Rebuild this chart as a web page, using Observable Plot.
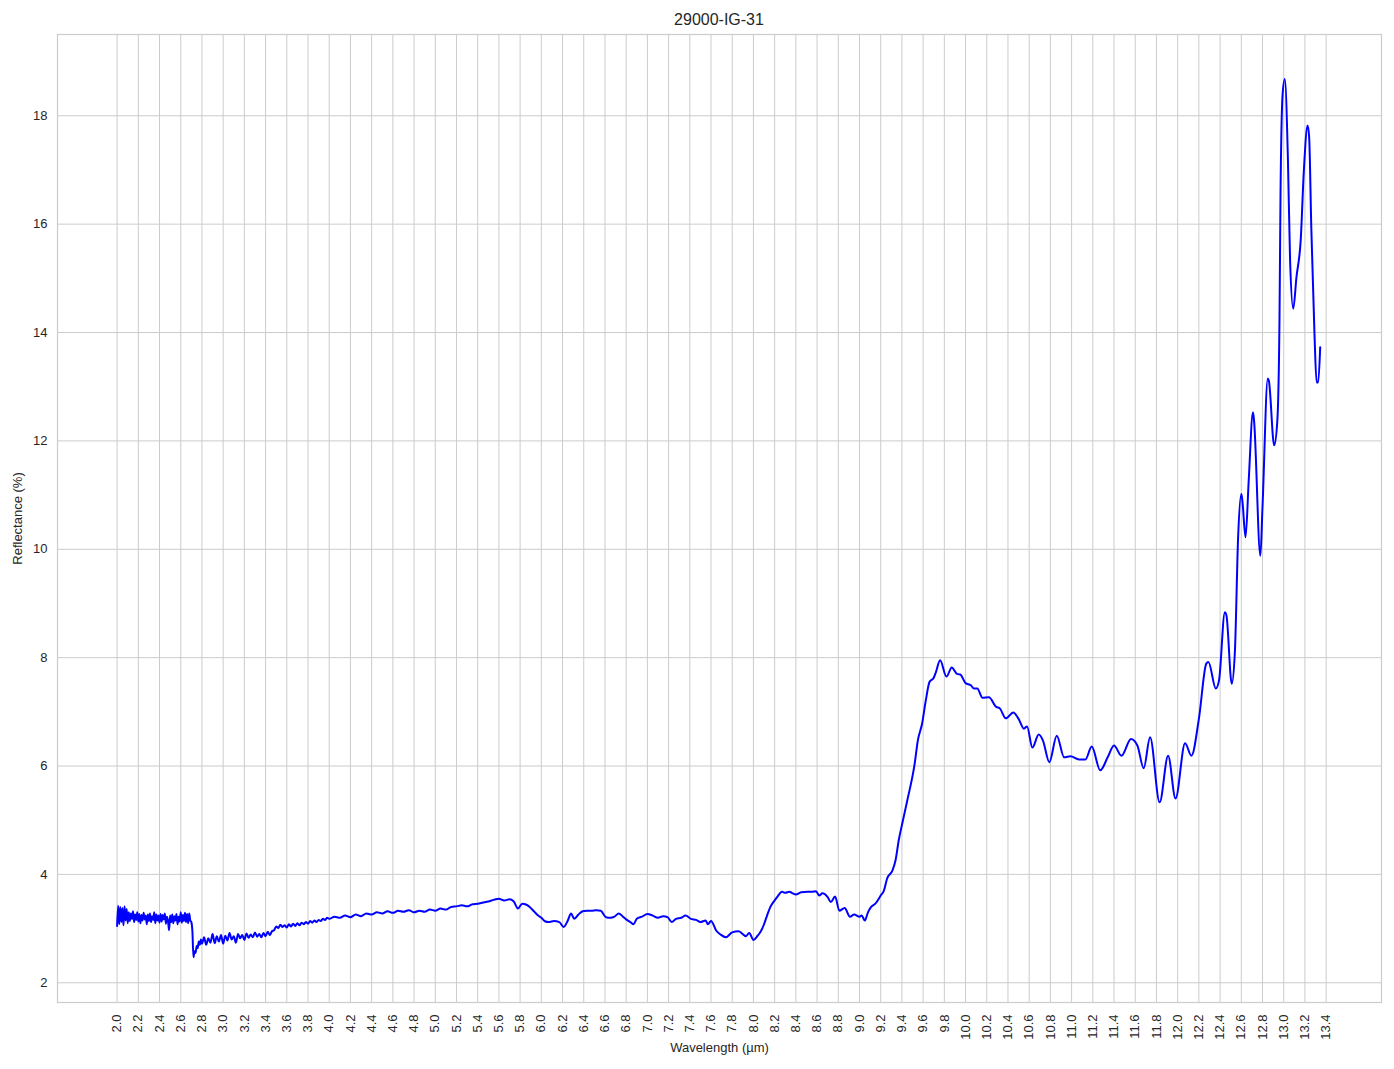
<!DOCTYPE html>
<html>
<head>
<meta charset="utf-8">
<script src="https://cdn.jsdelivr.net/npm/d3@7"></script>
<script src="https://cdn.jsdelivr.net/npm/@observablehq/plot@0.6"></script>
<style>
  html, body { margin: 0; padding: 0; background: #ffffff; }
  #title { height: 30px; box-sizing: border-box; padding-top: 12px; margin-left: 57px; width: 1324px;
           text-align: center; font: 16px "Liberation Sans", Arial, sans-serif; line-height: 16px; color: #262626; }
</style>
</head>
<body>
<div id="title">29000-IG-31</div>
<div id="chart"></div>
<script>
const titleText = "29000-IG-31";
const xLabel = "Wavelength (µm)";
const yLabel = "Reflectance (%)";

const xTicks = [2.0,2.2,2.4,2.6,2.8,3.0,3.2,3.4,3.6,3.8,4.0,4.2,4.4,4.6,4.8,5.0,5.2,5.4,5.6,5.8,
  6.0,6.2,6.4,6.6,6.8,7.0,7.2,7.4,7.6,7.8,8.0,8.2,8.4,8.6,8.8,9.0,9.2,9.4,9.6,9.8,
  10.0,10.2,10.4,10.6,10.8,11.0,11.2,11.4,11.6,11.8,12.0,12.2,12.4,12.6,12.8,13.0,13.2,13.4];
const yTicks = [2,4,6,8,10,12,14,16,18];

const wavelength = [
  2.00,2.01,2.02,2.03,2.04,2.05,2.06,2.07,2.08,2.09,
  2.10,2.11,2.12,2.13,2.14,2.15,2.16,2.17,2.18,2.19,
  2.20,2.21,2.22,2.23,2.24,2.25,2.26,2.27,2.28,2.29,
  2.30,2.31,2.32,2.33,2.34,2.35,2.36,2.37,2.38,2.39,
  2.40,2.41,2.42,2.43,2.44,2.45,2.46,2.47,2.48,2.49,
  2.50,2.51,2.52,2.53,2.54,2.55,2.56,2.57,2.58,2.59,
  2.60,2.61,2.62,2.63,2.64,2.65,2.66,2.67,2.68,2.69,
  2.70,
  2.71,2.72,2.73,2.74,2.75,2.76,2.77,2.78,2.79,2.80,
  2.82,2.84,2.86,2.88,2.90,2.92,2.94,2.96,2.98,3.00,
  3.02,3.04,3.06,3.08,3.10,3.12,3.14,3.16,3.18,3.20,
  3.22,3.24,3.26,3.28,3.30,3.32,3.34,3.36,3.38,3.40,
  3.42,3.44,3.46,3.48,3.50,3.52,3.54,3.56,3.58,3.60,
  3.62,3.64,3.66,3.68,3.70,3.72,3.74,3.76,3.78,3.80,
  3.82,3.84,3.86,3.88,3.90,3.92,3.94,3.96,3.98,4.00,
  4.05,4.10,4.15,4.20,4.25,4.30,4.35,4.40,4.45,4.50,
  4.55,4.60,4.65,4.70,4.75,4.80,4.85,4.90,4.95,5.00,
  5.05,5.10,5.15,5.20,5.25,5.30,5.35,5.40,5.45,5.50,
  5.55,5.60,5.65,5.70,
  5.74,5.78,5.82,5.86,5.89,5.93,5.97,6.00,6.03,6.07,
  6.12,6.17,6.21,6.25,6.28,6.31,6.35,6.39,6.43,6.47,
  6.52,6.56,6.61,6.65,6.69,6.73,6.77,6.80,6.84,6.87,
  6.90,6.95,7.00,7.05,7.10,7.15,7.19,7.23,7.27,7.32,
  7.36,7.41,7.46,7.50,7.55,7.57,7.60,7.65,7.69,7.74,
  7.80,7.86,7.93,7.96,8.00,8.04,8.07,8.10,8.13,8.16,
  8.20,8.23,8.27,8.30,8.34,8.37,8.40,8.45,8.51,8.55,
  8.59,8.62,8.65,8.70,8.73,8.77,8.81,8.86,8.91,8.95,
  9.00,9.02,9.05,9.08,9.11,9.15,9.20,9.23,9.26,9.31,
  9.34,9.37,9.41,9.45,9.52,9.55,9.59,9.625,9.66,9.70,
  9.72,9.76,9.82,9.87,9.92,9.95,10.00,10.05,10.08,10.11,
  10.16,10.22,10.29,10.32,10.38,10.45,10.50,10.55,10.58,10.63,
  10.69,10.73,10.79,10.86,10.93,10.99,11.07,11.13,11.19,11.27,
  11.34,11.40,11.47,11.56,11.62,11.68,11.74,11.83,11.91,11.98,
  12.07,12.13,12.20,12.27,12.29,12.36,12.39,12.445,12.46,12.51,
  12.54,12.57,12.60,12.61,12.64,12.67,12.71,12.72,12.78,12.80,
  12.85,12.86,12.91,12.94,12.96,12.97,12.99,13.01,13.04,13.06,
  13.09,13.12,13.16,13.19,13.225,13.24,13.26,13.29,13.31,13.325,13.344
];

const reflectance = [
  3.05,3.42,3.08,3.40,3.12,3.38,3.06,3.41,3.15,3.36,
  3.10,3.30,3.14,3.28,3.18,3.32,3.12,3.26,3.16,3.30,
  3.13,3.27,3.10,3.25,3.15,3.29,3.17,3.24,3.08,3.26,
  3.14,3.28,3.12,3.23,3.16,3.30,3.10,3.26,3.15,3.24,
  3.11,3.27,3.13,3.25,3.17,3.28,3.09,3.22,3.14,2.97,
  3.24,3.12,3.26,3.10,3.23,3.15,3.27,3.08,3.22,3.13,
  3.30,3.11,3.25,3.14,3.29,3.12,3.27,3.10,3.28,3.15,
  3.12,
  2.95,2.47,2.58,2.55,2.68,2.64,2.76,2.70,2.80,2.72,
  2.84,2.70,2.82,2.74,2.90,2.73,2.86,2.76,2.88,2.72,
  2.87,2.78,2.92,2.80,2.86,2.74,2.90,2.82,2.88,2.79,
  2.91,2.83,2.89,2.84,2.93,2.85,2.90,2.84,2.92,2.86,
  2.94,2.88,2.95,2.97,3.04,3.01,3.07,3.03,3.06,3.02,
  3.08,3.04,3.09,3.05,3.10,3.06,3.11,3.08,3.12,3.09,
  3.14,3.11,3.15,3.12,3.16,3.14,3.18,3.16,3.20,3.18,
  3.22,3.20,3.24,3.21,3.26,3.23,3.28,3.26,3.30,3.28,
  3.32,3.29,3.33,3.31,3.34,3.30,3.33,3.31,3.35,3.33,
  3.37,3.35,3.40,3.41,3.43,3.41,3.45,3.46,3.48,3.50,
  3.53,3.55,3.52,3.54,
  3.50,3.37,3.46,3.44,3.40,3.32,3.24,3.20,3.14,3.12,
  3.14,3.12,3.03,3.15,3.28,3.18,3.26,3.32,3.33,3.33,
  3.34,3.33,3.21,3.20,3.22,3.28,3.22,3.17,3.12,3.08,
  3.18,3.22,3.27,3.24,3.20,3.23,3.21,3.12,3.18,3.20,
  3.24,3.18,3.16,3.12,3.15,3.08,3.14,2.96,2.89,2.84,
  2.93,2.95,2.86,2.92,2.79,2.87,2.95,3.08,3.25,3.40,
  3.52,3.60,3.68,3.66,3.68,3.65,3.63,3.67,3.68,3.68,
  3.69,3.61,3.65,3.58,3.49,3.59,3.33,3.38,3.22,3.26,
  3.22,3.24,3.15,3.30,3.40,3.46,3.61,3.70,3.92,4.07,
  4.26,4.63,5.00,5.36,6.04,6.47,6.78,7.21,7.55,7.63,
  7.73,7.95,7.65,7.82,7.70,7.69,7.53,7.49,7.43,7.43,
  7.26,7.27,7.09,7.07,6.88,6.99,6.87,6.69,6.73,6.34,
  6.58,6.47,6.07,6.56,6.16,6.18,6.12,6.12,6.36,5.92,
  6.16,6.38,6.19,6.50,6.38,5.96,6.53,5.33,6.19,5.40,
  6.42,6.19,6.87,7.89,7.92,7.43,7.58,8.84,8.78,7.52,
  8.13,10.22,11.02,10.90,10.22,11.27,12.53,12.38,9.88,10.78,
  13.15,13.11,11.92,12.38,14.22,16.56,18.41,18.68,17.17,15.33,
  14.44,15.02,15.70,16.99,17.82,17.60,15.94,13.98,13.08,13.08,13.73
];

const data = wavelength.map((w, i) => ({w, r: reflectance[i]}));
const grid = "#cccccc";
const ink = "#262626";

const chart = Plot.plot({
  width: 1394,
  height: 1039,
  marginTop: 4,
  marginLeft: 57,
  marginRight: 13,
  marginBottom: 67,
  style: {fontFamily: '"Liberation Sans", Arial, sans-serif', fontSize: "13px", color: ink, background: "#ffffff"},
  x: {domain: [1.438, 13.922]},
  y: {domain: [1.636, 19.50]},
  marks: [
    Plot.gridX(xTicks, {stroke: grid, strokeOpacity: 1, strokeWidth: 1}),
    Plot.gridY(yTicks, {stroke: grid, strokeOpacity: 1, strokeWidth: 1}),
    Plot.frame({stroke: grid, strokeWidth: 1.2}),
    Plot.axisX(xTicks, {tickSize: 0, tickPadding: 12, tickRotate: -90, tickFormat: d => d.toFixed(1),
      label: xLabel, labelAnchor: "center", labelArrow: "none", labelOffset: 49, fill: ink}),
    Plot.axisY(yTicks, {tickSize: 0, tickPadding: 10, tickFormat: d => String(d),
      label: yLabel, labelAnchor: "center", labelArrow: "none", labelOffset: 45, fill: ink}),
    Plot.line(data, {x: "w", y: "r", stroke: "#0000ff", strokeWidth: 2, curve: "monotone-x"})
  ]
});
document.getElementById("chart").appendChild(chart);
</script>
</body>
</html>
